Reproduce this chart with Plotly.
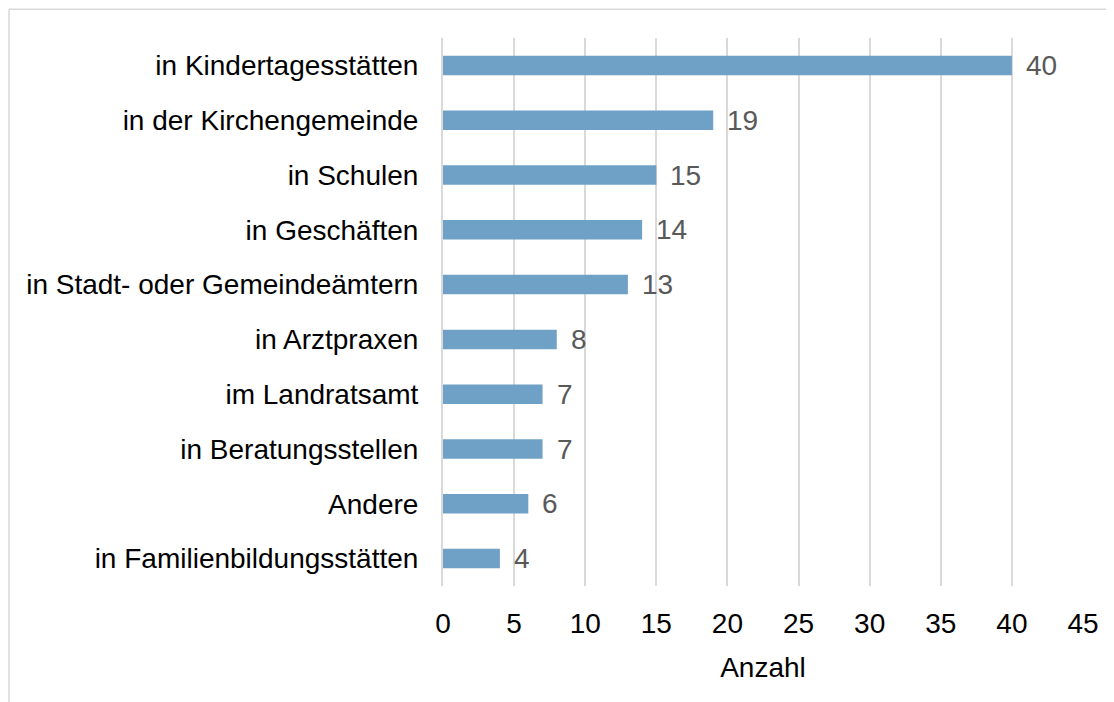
import plotly.graph_objects as go

categories = [
    "in Kindertagesstätten",
    "in der Kirchengemeinde",
    "in Schulen",
    "in Geschäften",
    "in Stadt- oder Gemeindeämtern",
    "in Arztpraxen",
    "im Landratsamt",
    "in Beratungsstellen",
    "Andere",
    "in Familienbildungsstätten",
]
values = [40, 19, 15, 14, 13, 8, 7, 7, 6, 4]
x_ticks = [0, 5, 10, 15, 20, 25, 30, 35, 40, 45]
x_title = "Anzahl"

FONT = "Liberation Sans, Arial, sans-serif"
BAR_COLOR = "#6FA1C6"
GRID = "#D9D9D9"

# page body has an 8px margin, so the figure is sized to fill the rest
W, H = 1106, 694
L, R, T, B = 435, 1075, 29.6, 578.5

fig = go.Figure()
fig.add_trace(go.Bar(
    x=values,
    y=categories,
    orientation="h",
    marker=dict(color=BAR_COLOR, line=dict(width=0)),
    hoverinfo="x+y",
))

for v, c in zip(values, categories):
    fig.add_annotation(
        x=v, y=c, xref="x", yref="y",
        text=str(v), showarrow=False,
        xanchor="left", yanchor="middle",
        xshift=12,
        font=dict(family=FONT, size=28, color="#595959"),
    )

# chart frame (top and left edges visible)
x0 = (1 - L) / (R - L)
ytop = (B - 0.8) / (B - T)
fig.add_shape(type="line", xref="paper", yref="paper",
              x0=x0, x1=1.2, y0=ytop, y1=ytop,
              line=dict(color=GRID, width=1.5), layer="below")
fig.add_shape(type="line", xref="paper", yref="paper",
              x0=x0, x1=x0, y0=-0.3, y1=ytop,
              line=dict(color=GRID, width=1.5), layer="below")

fig.update_layout(
    width=W, height=H,
    margin=dict(l=L, r=W - R, t=T, b=H - B, pad=0),
    paper_bgcolor="white",
    plot_bgcolor="white",
    bargap=0.645,
    showlegend=False,
    font=dict(family=FONT, size=28, color="#000000"),
    xaxis=dict(
        range=[0, 45],
        tickvals=x_ticks,
        ticktext=[str(t) for t in x_ticks],
        showgrid=True, gridcolor=GRID, gridwidth=2,
        zeroline=False,
        showline=False,
        ticks="outside", ticklen=12, tickcolor="rgba(0,0,0,0)",
        tickfont=dict(family=FONT, size=28, color="#000000"),
        title=dict(text=x_title, font=dict(family=FONT, size=28, color="#000000"), standoff=19),
        fixedrange=True,
    ),
    yaxis=dict(
        categoryorder="array",
        categoryarray=categories,
        autorange="reversed",
        showgrid=False,
        zeroline=False,
        showline=True, linecolor=GRID, linewidth=2,
        ticks="outside", ticklen=17, tickcolor="rgba(0,0,0,0)",
        tickfont=dict(family=FONT, size=28, color="#000000"),
        fixedrange=True,
    ),
)

fig.write_html("out.html")
